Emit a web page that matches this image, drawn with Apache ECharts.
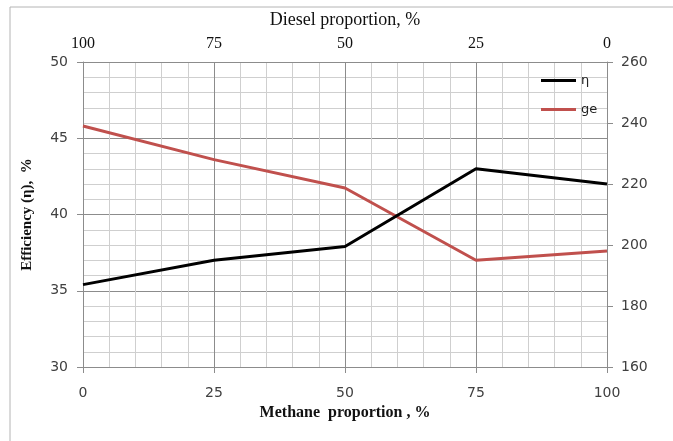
<!DOCTYPE html>
<html>
<head>
<meta charset="utf-8">
<script src="https://cdn.jsdelivr.net/npm/echarts@6/dist/echarts.min.js"></script>
<style>
  html, body { margin: 0; padding: 0; background: #fff; }
  #chart { width: 673px; height: 441px; }
</style>
</head>
<body>
<div id="chart"></div>
<script>
// Methane share of the fuel (%), bottom axis; diesel share is its complement (top axis)
const methaneShare = [0, 25, 50, 75, 100];
// Efficiency η, % (left axis)
const efficiency = [35.4, 37.0, 37.9, 43.0, 42.0];
// Specific fuel consumption ge (right axis)
const ge = [239, 228, 218.7, 195, 198];

const sansFont = 'DejaVu Sans';
const serifFont = 'Liberation Serif';
const labelColor = '#404040';
const majorGrid = '#8c8c8c';
const minorGrid = '#cfcfcf';

const chart = echarts.init(document.getElementById('chart'), null, { renderer: 'canvas' });

chart.setOption({
  animation: false,
  backgroundColor: '#fff',
  graphic: [{
    type: 'rect',
    shape: { x: 10, y: 7, width: 700, height: 460 },
    style: { fill: 'none', stroke: '#b4b4b4', lineWidth: 1 },
    silent: true,
    z: -1
  }],
  grid: { left: 83, top: 62, right: 66, bottom: 74, containLabel: false, outerBoundsMode: 'none' },
  legend: {
    orient: 'vertical',
    left: 536,
    top: 69,
    itemWidth: 35,
    itemHeight: 3,
    itemGap: 16,
    textStyle: { fontFamily: sansFont, fontSize: 13, color: '#222' },
    data: [
      { name: 'η', icon: 'rect', itemStyle: { color: '#000' } },
      { name: 'ge', icon: 'rect', itemStyle: { color: '#c0504d' } }
    ]
  },
  xAxis: [{
    type: 'value',
    position: 'bottom',
    min: 0, max: 100, interval: 25,
    name: 'Methane  proportion , %',
    nameLocation: 'middle',
    nameGap: 38,
    nameTextStyle: { fontFamily: serifFont, fontWeight: 'bold', fontSize: 16, color: '#111' },
    axisLine: { show: true, lineStyle: { color: '#8c8c8c', width: 1 } },
    axisTick: { show: true, length: 6, lineStyle: { color: '#8c8c8c' } },
    axisLabel: { fontFamily: sansFont, fontSize: 14, color: labelColor, margin: 19 },
    splitLine: { show: true, lineStyle: { color: majorGrid, width: 1 } },
    minorTick: { show: false, splitNumber: 5 },
    minorSplitLine: { show: true, lineStyle: { color: minorGrid, width: 1 } }
  }, {
    type: 'value',
    position: 'top',
    min: 0, max: 100, interval: 25,
    inverse: true,
    name: 'Diesel proportion, %',
    nameLocation: 'middle',
    nameGap: 33,
    nameTextStyle: { fontFamily: serifFont, fontSize: 18, color: '#111' },
    axisLine: { show: true, lineStyle: { color: '#8c8c8c', width: 1 } },
    axisTick: { show: false },
    axisLabel: { fontFamily: serifFont, fontSize: 16, color: '#111', margin: 10 },
    splitLine: { show: false }
  }],
  yAxis: [{
    type: 'value',
    position: 'left',
    min: 30, max: 50, interval: 5,
    name: 'Efficiency (η),  %',
    nameLocation: 'middle',
    nameGap: 48,
    nameRotate: 90,
    nameTextStyle: { fontFamily: serifFont, fontWeight: 'bold', fontSize: 15, color: '#111' },
    axisLine: { show: true, lineStyle: { color: '#8c8c8c', width: 1 } },
    axisTick: { show: true, length: 6, lineStyle: { color: '#8c8c8c' } },
    axisLabel: { fontFamily: sansFont, fontSize: 14, color: labelColor, margin: 15 },
    splitLine: { show: true, lineStyle: { color: majorGrid, width: 1 } },
    minorTick: { show: false, splitNumber: 5 },
    minorSplitLine: { show: true, lineStyle: { color: minorGrid, width: 1 } }
  }, {
    type: 'value',
    position: 'right',
    min: 160, max: 260, interval: 20,
    axisLine: { show: true, lineStyle: { color: '#8c8c8c', width: 1 } },
    axisTick: { show: true, length: 6, lineStyle: { color: '#8c8c8c' } },
    axisLabel: { fontFamily: sansFont, fontSize: 14, color: labelColor, margin: 14 },
    splitLine: { show: false }
  }],
  series: [{
    name: 'η',
    type: 'line',
    xAxisIndex: 0,
    yAxisIndex: 0,
    symbol: 'none',
    lineStyle: { color: '#000', width: 3 },
    itemStyle: { color: '#000' },
    data: methaneShare.map((m, i) => [m, efficiency[i]]),
    z: 3
  }, {
    name: 'ge',
    type: 'line',
    xAxisIndex: 0,
    yAxisIndex: 1,
    symbol: 'none',
    lineStyle: { color: '#c0504d', width: 3 },
    itemStyle: { color: '#c0504d' },
    data: methaneShare.map((m, i) => [m, ge[i]]),
    z: 2
  }]
});
</script>
</body>
</html>
